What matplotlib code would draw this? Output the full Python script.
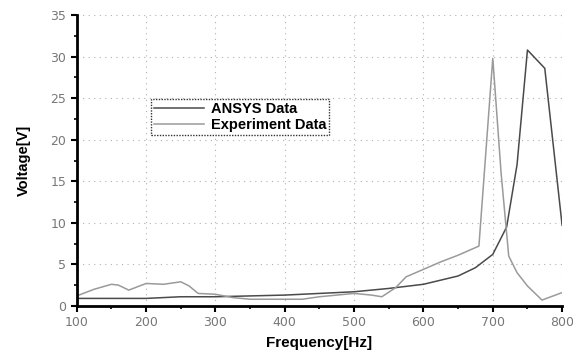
import matplotlib
matplotlib.use("Agg")
import matplotlib.pyplot as plt
from matplotlib.ticker import MultipleLocator

ansys_freq = [100, 150, 200, 250, 300, 350, 400, 450, 500, 550, 600, 650, 675, 700, 720, 735, 750, 775, 800]
ansys_volt = [0.9, 0.9, 0.9, 1.1, 1.1, 1.2, 1.3, 1.5, 1.7, 2.1, 2.6, 3.6, 4.6, 6.2, 9.5, 17.0, 30.8, 28.6, 9.7]

exp_freq = [100, 125, 150, 160, 175, 200, 225, 250, 262, 275, 300, 325, 350, 400, 425, 450, 500, 525, 540,
            560, 575, 600, 625, 650, 680, 700, 712, 723, 735, 750, 771, 800]
exp_volt = [1.2, 2.0, 2.6, 2.5, 1.9, 2.7, 2.6, 2.9, 2.4, 1.5, 1.4, 1.0, 0.8, 0.8, 0.8, 1.1, 1.5, 1.3, 1.1,
            2.2, 3.5, 4.4, 5.3, 6.1, 7.2, 29.8, 16.0, 6.0, 4.0, 2.4, 0.7, 1.6]

x_ticks = [100, 200, 300, 400, 500, 600, 700, 800]
y_ticks = [0, 5, 10, 15, 20, 25, 30, 35]
y_tick_labels = ["0", "5", "10", "15", "20", "25", "30", "35"]

fig = plt.figure(figsize=(5.73, 3.52), dpi=100)
ax = fig.add_axes([0.134, 0.131, 0.847, 0.826])

ax.plot(ansys_freq, ansys_volt, color="#4a4a4a", lw=1.1, label="ANSYS Data")
ax.plot(exp_freq, exp_volt, color="#9a9a9a", lw=1.1, label="Experiment Data")

ax.set_xlim(100, 800)
ax.set_ylim(0, 35)
ax.set_xticks(x_ticks)
ax.set_yticks(y_ticks)
ax.set_yticklabels(y_tick_labels)
ax.xaxis.set_minor_locator(MultipleLocator(50))
ax.yaxis.set_minor_locator(MultipleLocator(2.5))
ax.grid(True, which="major", linestyle=(0, (1, 4)), color="#b0b0b0", lw=0.8)

for s in ["top", "right"]:
    ax.spines[s].set_visible(False)
for s in ["left", "bottom"]:
    ax.spines[s].set_linewidth(2.0)
    ax.spines[s].set_color("black")

ax.tick_params(axis="both", which="major", direction="out", length=4, width=1.5,
               labelsize=9, colors="black")
ax.tick_params(axis="both", which="minor", direction="out", length=2.5, width=1.2)
for lab in ax.get_xticklabels() + ax.get_yticklabels():
    lab.set_color("#777777")

ax.set_xlabel("Frequency[Hz]", fontsize=11, fontweight="bold", family="Liberation Sans", labelpad=5)
ax.set_ylabel("Voltage[V]", fontsize=10.5, fontweight="bold", family="Liberation Sans", labelpad=14)

leg = ax.legend(loc="upper left", bbox_to_anchor=(0.138, 0.735), frameon=True, fancybox=False,
                prop={"family": "Liberation Sans", "weight": "bold", "size": 10.5},
                handlelength=3.4, handletextpad=0.5, borderpad=0.2, labelspacing=0.1)
leg.get_frame().set_edgecolor("black")
leg.get_frame().set_linestyle((0, (1, 1)))
leg.get_frame().set_linewidth(1.0)

fig.savefig("out.png", dpi=100)
